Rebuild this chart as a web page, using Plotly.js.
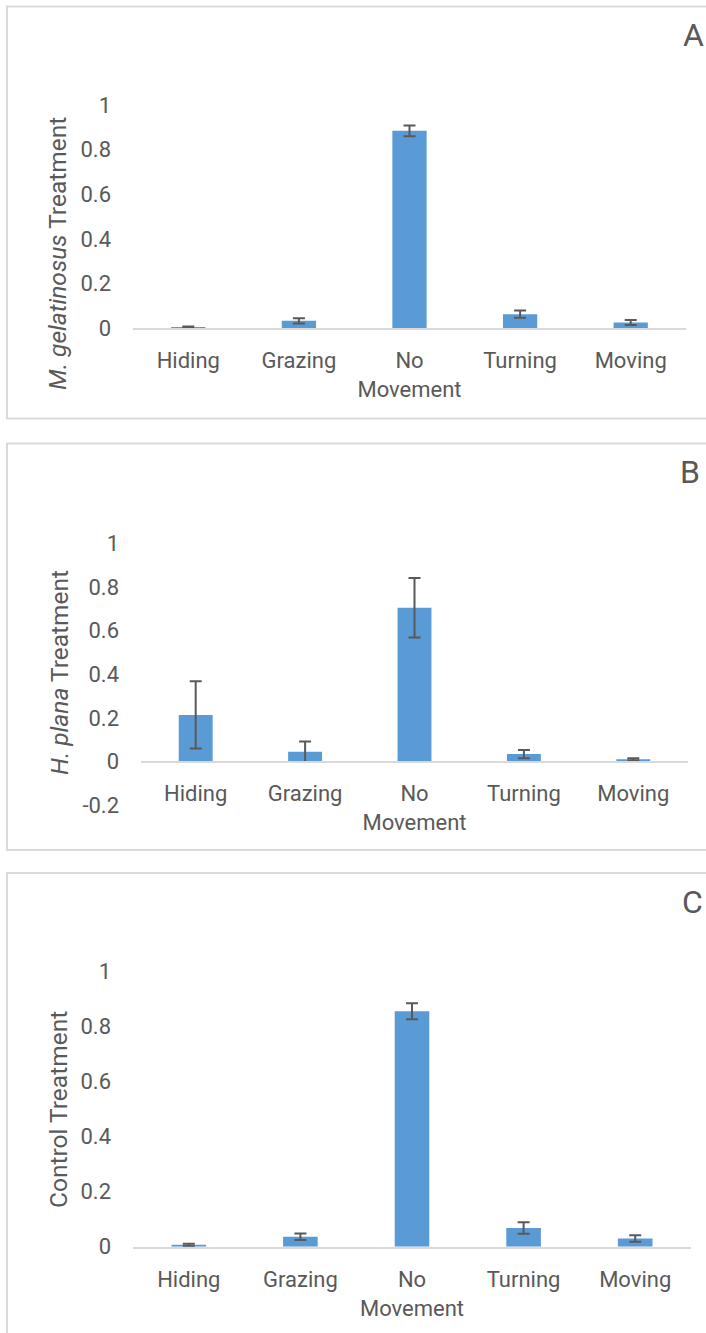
<!DOCTYPE html>
<html>
<head>
<meta charset="utf-8">
<script src="https://cdn.plot.ly/plotly-3.0.1.min.js"></script>
<style>html,body{margin:0;padding:0;background:#fff;}#chart{width:706px;height:1333px;}</style>
</head>
<body>
<div id="chart"></div>
<script>
// ---- data ----
const categories = ["Hiding", "Grazing", "No Movement", "Turning", "Moving"];
const categoryLabels = ["Hiding", "Grazing", "No<br>Movement", "Turning", "Moving"];

const valuesA = [0.005, 0.032, 0.884, 0.062, 0.025];
const errorsA = [0.002, 0.012, 0.024, 0.016, 0.011];

const valuesB = [0.214, 0.046, 0.705, 0.035, 0.011];
const errorsB = [0.154, 0.047, 0.136, 0.019, 0.005];

const valuesC = [0.007, 0.036, 0.856, 0.068, 0.030];
const errorsC = [0.004, 0.012, 0.029, 0.021, 0.012];

const yTicksAC = [0, 0.2, 0.4, 0.6, 0.8, 1];
const yTickTextAC = ["0", "0.2", "0.4", "0.6", "0.8", "1"];
const yTicksB = [-0.2, 0, 0.2, 0.4, 0.6, 0.8, 1];
const yTickTextB = ["-0.2", "0", "0.2", "0.4", "0.6", "0.8", "1"];

const titleA = "<i>M. gelatinosus</i> Treatment";
const titleB = "<i>H. plana</i> Treatment";
const titleC = "Control Treatment";
const panelLetters = ["A", "B", "C"];

// ---- layout helpers ----
const W = 706, H = 1333;
const px = v => v / W;
const py = v => 1 - v / H;

const BAR = "#5b9bd5";
const TXT = "#595959";
const LINE = "#d9d9d9";

function barTrace(vals, errs, xa, ya) {
  return {
    type: "bar", x: categories, y: vals, xaxis: xa, yaxis: ya,
    marker: {color: BAR, line: {width: 0}},
    error_y: {type: "data", array: errs, visible: true, color: TXT, thickness: 2, width: 6},
    hoverinfo: "skip"
  };
}

const data = [
  barTrace(valuesA, errorsA, "x", "y"),
  barTrace(valuesB, errorsB, "x2", "y2"),
  barTrace(valuesC, errorsC, "x3", "y3")
];

function xax(domain, extra) {
  return Object.assign({
    domain: domain, type: "category",
    tickvals: categories, ticktext: categoryLabels,
    showline: true, linecolor: LINE, linewidth: 2,
    ticks: "", showgrid: false, zeroline: false,
    ticklabelstandoff: 12,
    tickfont: {family: "Roboto", size: 22, color: TXT},
    fixedrange: true
  }, extra);
}
function yax(domain, range, tv, tt, extra) {
  return Object.assign({
    domain: domain, range: range, tickvals: tv, ticktext: tt,
    showline: false, showgrid: false, zeroline: false, ticks: "",
    ticklabelstandoff: 21,
    tickfont: {family: "Roboto", size: 22, color: TXT},
    fixedrange: true
  }, extra);
}

const layout = {
  width: W, height: H,
  margin: {l: 0, r: 0, t: 0, b: 0, pad: 0},
  paper_bgcolor: "#ffffff", plot_bgcolor: "#ffffff",
  showlegend: false,
  bargap: 0.69,
  font: {family: "Roboto", color: TXT, size: 22},
  xaxis: xax([px(133), px(686)], {anchor: "y"}),
  yaxis: yax([py(328), py(105)], [0, 1], yTicksAC, yTickTextAC, {anchor: "x"}),
  xaxis2: xax([px(141), px(688)], {anchor: "free", position: py(761.7)}),
  yaxis2: yax([py(805.4), py(543.3)], [-0.2, 1], yTicksB, yTickTextB, {anchor: "x2"}),
  xaxis3: xax([px(133), px(691)], {anchor: "y3"}),
  yaxis3: yax([py(1246.7), py(971.7)], [0, 1], yTicksAC, yTickTextAC, {anchor: "x3"}),
  shapes: [
    {type: "rect", xref: "paper", yref: "paper", x0: px(7), x1: px(720), y0: py(418.5), y1: py(6.5), line: {color: LINE, width: 2}, fillcolor: "rgba(0,0,0,0)", layer: "below"},
    {type: "rect", xref: "paper", yref: "paper", x0: px(7), x1: px(720), y0: py(850), y1: py(443.5), line: {color: LINE, width: 2}, fillcolor: "rgba(0,0,0,0)", layer: "below"},
    {type: "rect", xref: "paper", yref: "paper", x0: px(7), x1: px(720), y0: py(1345), y1: py(873), line: {color: LINE, width: 2}, fillcolor: "rgba(0,0,0,0)", layer: "below"}
  ],
  annotations: [
    {xref: "paper", yref: "paper", x: px(58), y: py(254), text: titleA, textangle: -90, showarrow: false, xanchor: "center", yanchor: "middle", font: {family: "Roboto", size: 24.5, color: TXT}},
    {xref: "paper", yref: "paper", x: px(59), y: py(673), text: titleB, textangle: -90, showarrow: false, xanchor: "center", yanchor: "middle", font: {family: "Roboto", size: 24.5, color: TXT}},
    {xref: "paper", yref: "paper", x: px(58), y: py(1110), text: titleC, textangle: -90, showarrow: false, xanchor: "center", yanchor: "middle", font: {family: "Roboto", size: 24.5, color: TXT}},
    {xref: "paper", yref: "paper", x: px(693), y: py(35), text: panelLetters[0], showarrow: false, xanchor: "center", yanchor: "middle", font: {family: "Roboto", size: 32, color: TXT}},
    {xref: "paper", yref: "paper", x: px(690), y: py(472), text: panelLetters[1], showarrow: false, xanchor: "center", yanchor: "middle", font: {family: "Roboto", size: 32, color: TXT}},
    {xref: "paper", yref: "paper", x: px(692), y: py(902), text: panelLetters[2], showarrow: false, xanchor: "center", yanchor: "middle", font: {family: "Roboto", size: 32, color: TXT}}
  ]
};

Plotly.newPlot("chart", data, layout, {staticPlot: true, displayModeBar: false});
</script>
</body>
</html>
